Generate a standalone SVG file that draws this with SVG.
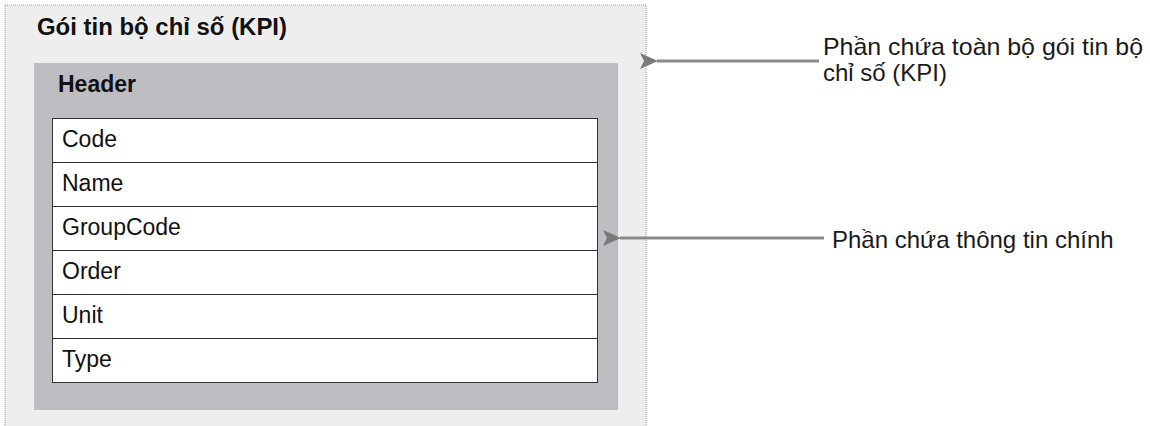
<svg xmlns="http://www.w3.org/2000/svg" width="1150" height="426" viewBox="0 0 1150 426">
<style>
text{font-family:"Liberation Sans",Arial,sans-serif;fill:#111}
.b{font-weight:bold}
.t{font-size:23px}
.r{font-size:24px;fill:#1a1a1a}
.row{fill:#fff;stroke:#333;stroke-width:1}
.conn{stroke:#8a8a8a;stroke-width:3;fill:none}
</style>
<defs>
<marker id="ah" markerWidth="18" markerHeight="16" refX="1" refY="8" orient="auto" markerUnits="userSpaceOnUse">
<path d="M0,8 L18,0 L14,8 L18,16 Z" fill="#7a7a7a"/>
</marker>
</defs>
<rect width="1150" height="426" fill="#fff"/>
<g id="kpi-packet">
<rect x="5" y="5" width="641" height="430" fill="#eeeeee" stroke="#9a9a9a" stroke-dasharray="1,1"/>
<text x="37" y="35" class="b t" textLength="250" lengthAdjust="spacingAndGlyphs">Gói tin bộ chỉ số (KPI)</text>
</g>
<g id="header">
<rect x="34" y="63" width="584" height="347" fill="#bdbdc2"/>
<text x="58" y="92" class="b t">Header</text>
</g>
<g id="fields">
<rect class="row" x="52.5" y="118.5" width="545" height="44"/>
<rect class="row" x="52.5" y="162.5" width="545" height="44"/>
<rect class="row" x="52.5" y="206.5" width="545" height="44"/>
<rect class="row" x="52.5" y="250.5" width="545" height="44"/>
<rect class="row" x="52.5" y="294.5" width="545" height="44"/>
<rect class="row" x="52.5" y="338.5" width="545" height="44"/>
<text x="62" y="147" class="t">Code</text>
<text x="62" y="191" class="t">Name</text>
<text x="62" y="235" class="t">GroupCode</text>
<text x="62" y="279" class="t">Order</text>
<text x="62" y="323" class="t">Unit</text>
<text x="62" y="367" class="t">Type</text>
</g>
<g id="connectors">
<line class="conn" x1="819" y1="61" x2="657" y2="61" marker-end="url(#ah)"/>
<line class="conn" x1="824" y1="238" x2="620" y2="238" marker-end="url(#ah)"/>
</g>
<g id="label-packet">
<text x="823" y="55" class="r" textLength="320" lengthAdjust="spacingAndGlyphs">Phần chứa toàn bộ gói tin bộ</text>
<text x="823" y="81" class="r">chỉ số (KPI)</text>
</g>
<g id="label-main">
<text x="832" y="248" class="r">Phần chứa thông tin chính</text>
</g>
</svg>
